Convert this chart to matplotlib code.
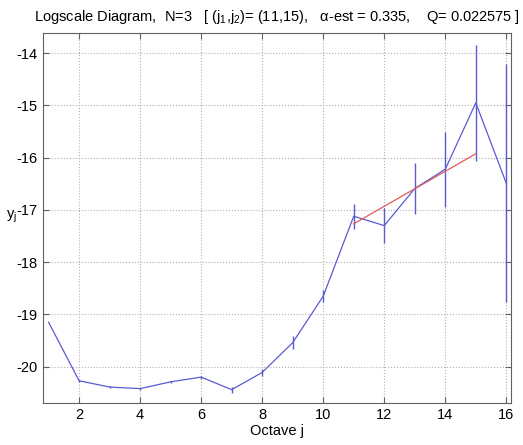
import numpy as np
import matplotlib.pyplot as plt

plt.rcParams['font.family'] = ['Liberation Sans', 'DejaVu Sans']
plt.rcParams['axes.unicode_minus'] = False

# octaves and log-scale estimates with their confidence half-widths
octave = np.arange(1, 17)
yj = [-19.15, -20.27, -20.39, -20.42, -20.29, -20.20, -20.44, -20.11,
      -19.54, -18.65, -17.12, -17.30, -16.59, -16.22, -14.95, -16.49]
err = [0.0, 0.02, 0.02, 0.02, 0.02, 0.03, 0.06, 0.07,
       0.13, 0.12, 0.24, 0.335, 0.49, 0.72, 1.11, 2.28]

# linear fit over the chosen range of octaves
j1, j2 = 11, 15
alpha_est = 0.335
intercept = -20.95
Q = 0.022575

fig = plt.figure(figsize=(5.23, 4.45), dpi=100)
ax = fig.add_axes([0.083, 0.095, 0.895, 0.830])

blue = '#5a5ad2'
ax.plot(octave, yj, color=blue, lw=0.9)
ax.errorbar(octave, yj, yerr=err, fmt='none', ecolor=blue, elinewidth=1.0, capsize=0)

jf = np.array([j1, j2])
ax.plot(jf, intercept + alpha_est * jf, color='#e05a5a', lw=0.9)

ax.set_xlim(0.83, 16.17)
ax.set_ylim(-20.69, -13.62)
ax.set_xticks(range(2, 17, 2))
ax.set_yticks(range(-20, -13))
ax.grid(True, linestyle=':', color='#b0b0b0', lw=0.8)
ax.tick_params(direction='in', top=True, right=True, labelsize=10.5, length=4,
               color='#606060', pad=4)
for s in ax.spines.values():
    s.set_color('#606060')

ax.set_xlabel('Octave j', fontsize=10.5, labelpad=1)
ax.set_ylabel('y$_\\mathregular{j}$', fontsize=10.5, rotation=0)
ax.yaxis.set_label_coords(-0.068, 0.48)
ax.set_title('Logscale Diagram,  N=3   [ (j$_\\mathregular{1}$,j$_\\mathregular{2}$)= (%d,%d),   '
             '\u03b1-est = %.3f,    Q= %.6f ]' % (j1, j2, alpha_est, Q),
             fontsize=10.5, pad=9)

fig.savefig('out.png', dpi=100)
